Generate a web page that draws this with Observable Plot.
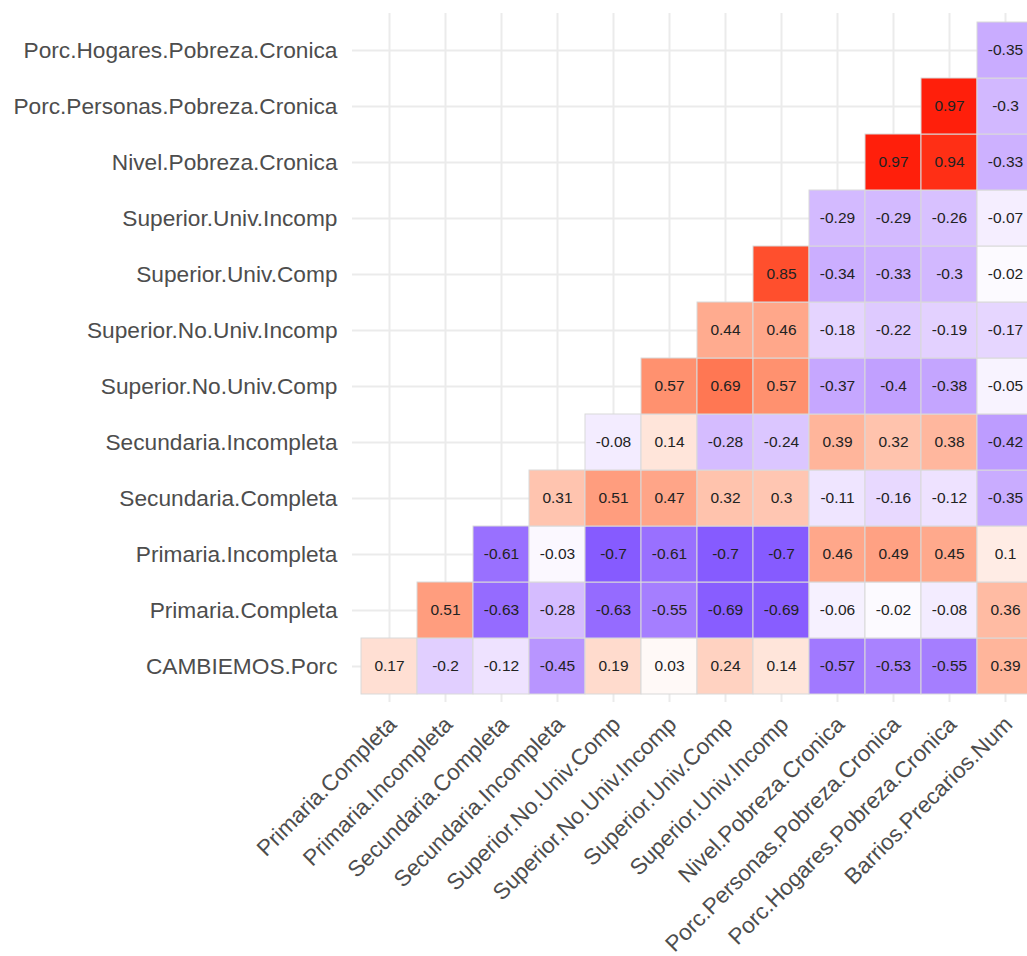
<!DOCTYPE html>
<html>
<head>
<meta charset="utf-8">
<script src="https://cdn.jsdelivr.net/npm/d3@7"></script>
<script src="https://cdn.jsdelivr.net/npm/@observablehq/plot@0.6"></script>
<style>
  html, body { margin: 0; padding: 0; background: #fff; overflow: hidden; }
  #chart svg { display: block; max-width: none !important; }
</style>
</head>
<body>
<div id="chart"></div>
<script>
// Row variables (bottom to top)
const rowVars = [
  "CAMBIEMOS.Porc",
  "Primaria.Completa",
  "Primaria.Incompleta",
  "Secundaria.Completa",
  "Secundaria.Incompleta",
  "Superior.No.Univ.Comp",
  "Superior.No.Univ.Incomp",
  "Superior.Univ.Comp",
  "Superior.Univ.Incomp",
  "Nivel.Pobreza.Cronica",
  "Porc.Personas.Pobreza.Cronica",
  "Porc.Hogares.Pobreza.Cronica"
];
// Column variables (left to right)
const colVars = [
  "Primaria.Completa",
  "Primaria.Incompleta",
  "Secundaria.Completa",
  "Secundaria.Incompleta",
  "Superior.No.Univ.Comp",
  "Superior.No.Univ.Incomp",
  "Superior.Univ.Comp",
  "Superior.Univ.Incomp",
  "Nivel.Pobreza.Cronica",
  "Porc.Personas.Pobreza.Cronica",
  "Porc.Hogares.Pobreza.Cronica",
  "Barrios.Precarios.Num"
];
// Correlation values per row; row k starts at column k
const vCambiemos        = [0.17, -0.2, -0.12, -0.45, 0.19, 0.03, 0.24, 0.14, -0.57, -0.53, -0.55, 0.39];
const vPrimariaComp     = [0.51, -0.63, -0.28, -0.63, -0.55, -0.69, -0.69, -0.06, -0.02, -0.08, 0.36];
const vPrimariaIncomp   = [-0.61, -0.03, -0.7, -0.61, -0.7, -0.7, 0.46, 0.49, 0.45, 0.1];
const vSecundariaComp   = [0.31, 0.51, 0.47, 0.32, 0.3, -0.11, -0.16, -0.12, -0.35];
const vSecundariaIncomp = [-0.08, 0.14, -0.28, -0.24, 0.39, 0.32, 0.38, -0.42];
const vSupNoUnivComp    = [0.57, 0.69, 0.57, -0.37, -0.4, -0.38, -0.05];
const vSupNoUnivIncomp  = [0.44, 0.46, -0.18, -0.22, -0.19, -0.17];
const vSupUnivComp      = [0.85, -0.34, -0.33, -0.3, -0.02];
const vSupUnivIncomp    = [-0.29, -0.29, -0.26, -0.07];
const vNivelPobreza     = [0.97, 0.94, -0.33];
const vPorcPersonas     = [0.97, -0.3];
const vPorcHogares      = [-0.35];

const rowValues = [vCambiemos, vPrimariaComp, vPrimariaIncomp, vSecundariaComp, vSecundariaIncomp,
  vSupNoUnivComp, vSupNoUnivIncomp, vSupUnivComp, vSupUnivIncomp, vNivelPobreza, vPorcPersonas, vPorcHogares];

const cells = [];
rowValues.forEach((vals, r) => {
  vals.forEach((v, k) => {
    cells.push({row: rowVars[r], col: colVars[r + k], value: v});
  });
});

const fmt = v => String(v);

const chart = Plot.plot({
  width: 1042,
  height: 956,
  marginLeft: 352,
  marginRight: 0,
  marginTop: 13,
  marginBottom: 254,
  style: {fontFamily: "'Liberation Sans', Arial, Helvetica, sans-serif", background: "#fff", maxWidth: "none"},
  x: {type: "band", domain: colVars, padding: 0, insetLeft: 5, insetRight: 5, axis: null},
  y: {type: "band", domain: rowVars.slice().reverse(), padding: 0, insetTop: 5, insetBottom: 5, axis: null},
  color: {type: "linear", domain: [-1, 0, 1], range: ["blue", "white", "red"], interpolate: d3.interpolateLab},
  marks: [
    Plot.gridX({stroke: "#ebebeb", strokeWidth: 2, strokeOpacity: 1}),
    Plot.gridY({stroke: "#ebebeb", strokeWidth: 2, strokeOpacity: 1}),
    Plot.cell(cells, {x: "col", y: "row", fill: "value", stroke: "#d9d9d9", strokeWidth: 1}),
    Plot.text(cells, {x: "col", y: "row", text: d => fmt(d.value), fontSize: 15.5, fill: "#222"}),
    Plot.axisY({tickSize: 0, tickPadding: 15, fontSize: 22.7, fill: "#4d4d4d", label: null}),
    Plot.text(colVars, {x: d => d, text: d => d, frameAnchor: "bottom", rotate: -45,
      textAnchor: "end", lineAnchor: "top", dx: -3, dy: 12, fontSize: 22.5, fill: "#4d4d4d"})
  ]
});
document.getElementById("chart").appendChild(chart);
</script>
</body>
</html>
